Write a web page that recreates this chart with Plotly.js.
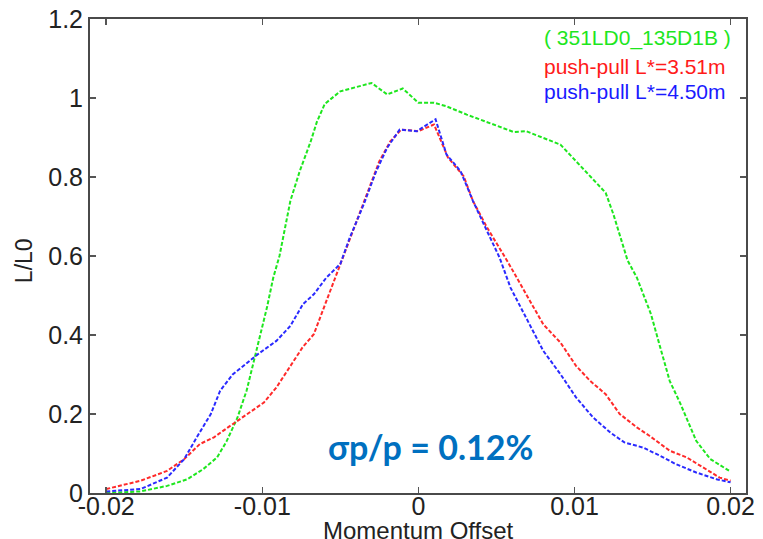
<!DOCTYPE html>
<html>
<head>
<meta charset="utf-8">
<script src="https://cdn.plot.ly/plotly-3.0.1.min.js"></script>
<style>html,body{margin:0;padding:0;background:#fff;}#chart{width:763px;height:539px;}</style>
</head>
<body>
<div id="chart"></div>
<script>
// Momentum offset vs L/L0
const greenX = [-0.0200,-0.0178,-0.0161,-0.0148,-0.0138,-0.0129,-0.0123,-0.0116,-0.0110,-0.0105,-0.0101,-0.0097,-0.0093,-0.0089,-0.0082,-0.0076,-0.0069,-0.0065,-0.0060,-0.0050,-0.0030,-0.0020,-0.0010,0.0000,0.0010,0.0018,0.0031,0.0048,0.0061,0.0069,0.0091,0.0101,0.0120,0.0125,0.0134,0.0140,0.0149,0.0155,0.0161,0.0168,0.0178,0.0187,0.0200];
const greenY = [0.000,0.004,0.018,0.035,0.060,0.090,0.130,0.190,0.260,0.340,0.400,0.470,0.545,0.600,0.740,0.815,0.890,0.940,0.985,1.017,1.038,1.009,1.024,0.988,0.988,0.979,0.958,0.933,0.914,0.916,0.882,0.840,0.760,0.705,0.589,0.545,0.453,0.368,0.284,0.225,0.132,0.086,0.054];
const redX = [-0.0200,-0.0178,-0.0161,-0.0150,-0.0140,-0.0131,-0.0122,-0.0110,-0.0099,-0.0091,-0.0082,-0.0074,-0.0067,-0.0059,-0.0049,-0.0042,-0.0033,-0.0025,-0.0018,-0.0011,0.0000,0.0010,0.0019,0.0029,0.0035,0.0044,0.0057,0.0069,0.0080,0.0091,0.0101,0.0110,0.0120,0.0129,0.0140,0.0148,0.0161,0.0172,0.0182,0.0193,0.0200];
const redY = [0.010,0.031,0.056,0.086,0.124,0.141,0.166,0.200,0.229,0.267,0.322,0.370,0.402,0.486,0.590,0.663,0.756,0.840,0.890,0.920,0.916,0.933,0.849,0.802,0.739,0.672,0.587,0.503,0.427,0.381,0.322,0.284,0.250,0.200,0.166,0.145,0.107,0.090,0.065,0.039,0.031];
const blueX = [-0.0200,-0.0178,-0.0161,-0.0150,-0.0142,-0.0133,-0.0127,-0.0119,-0.0112,-0.0103,-0.0091,-0.0082,-0.0074,-0.0067,-0.0059,-0.0050,-0.0044,-0.0035,-0.0027,-0.0020,-0.0012,-0.0001,0.0011,0.0018,0.0027,0.0035,0.0044,0.0052,0.0059,0.0069,0.0080,0.0091,0.0101,0.0112,0.0123,0.0132,0.0144,0.0155,0.0165,0.0178,0.0191,0.0200];
const blueY = [0.004,0.010,0.039,0.086,0.141,0.200,0.259,0.300,0.322,0.351,0.385,0.423,0.478,0.503,0.545,0.580,0.646,0.731,0.815,0.874,0.920,0.916,0.946,0.857,0.815,0.739,0.663,0.596,0.520,0.444,0.360,0.301,0.242,0.191,0.153,0.128,0.115,0.094,0.073,0.052,0.035,0.027];
const seriesNames = ['( 351LD0_135D1B )','push-pull L*=3.51m','push-pull L*=4.50m'];
const seriesColors = ['#1ee61e','#ff2a2a','#2a2aff'];
const xTicks = [-0.02,-0.01,0,0.01,0.02];
const xTickText = ['-0.02','-0.01','0','0.01','0.02'];
const yTicks = [0,0.2,0.4,0.6,0.8,1,1.2];
const yTickText = ['0','0.2','0.4','0.6','0.8','1','1.2'];
const xTitle = 'Momentum Offset';
const yTitle = 'L/L0';
const noteText = 'σp/p = 0.12%';

const mk = (x,y,i) => ({x:x,y:y,type:'scatter',mode:'lines',name:seriesNames[i],
  line:{color:seriesColors[i],width:2,dash:'4px,2px'},hoverinfo:'skip'});
const data = [mk(greenX,greenY,0), mk(redX,redY,1), mk(blueX,blueY,2)];

const fam = '"Liberation Sans", Arial, sans-serif';
const tickFont = {family:fam, size:25, color:'#222'};
const layout = {
  width:763, height:539,
  margin:{l:90, r:17, t:19, b:46},
  paper_bgcolor:'#fff', plot_bgcolor:'#fff',
  showlegend:false,
  xaxis:{range:[-0.02104,0.02099], tickvals:xTicks, ticktext:xTickText, ticks:'inside', ticklen:6,
    tickcolor:'#555', tickwidth:1.5, showline:true, linecolor:'#4a4a4a', linewidth:2, mirror:'ticks',
    showgrid:false, zeroline:false, tickfont:tickFont, ticklabelstandoff:-10},
  yaxis:{range:[0,1.2], tickvals:yTicks, ticktext:yTickText, ticks:'inside', ticklen:6,
    tickcolor:'#555', tickwidth:1.5, showline:true, linecolor:'#4a4a4a', linewidth:2, mirror:'ticks',
    showgrid:false, zeroline:false, tickfont:tickFont, ticklabelstandoff:0},
  annotations:[
    {xref:'paper', yref:'paper', x:0.5, y:-0.079, xanchor:'center', yanchor:'middle', showarrow:false,
      text:xTitle, font:{family:fam, size:24, color:'#222'}},
    {xref:'paper', yref:'paper', x:-0.1015, y:0.49, xanchor:'center', yanchor:'middle', showarrow:false,
      textangle:-90, text:yTitle, font:{family:fam, size:23, color:'#222'}},
    {xref:'paper', yref:'paper', x:0.689, y:0.96, xanchor:'left', yanchor:'middle', showarrow:false,
      text:seriesNames[0], font:{family:fam, size:21, color:seriesColors[0]}},
    {xref:'paper', yref:'paper', x:0.689, y:0.899, xanchor:'left', yanchor:'middle', showarrow:false,
      text:seriesNames[1], font:{family:fam, size:21, color:'#ff1a1a'}},
    {xref:'paper', yref:'paper', x:0.689, y:0.846, xanchor:'left', yanchor:'middle', showarrow:false,
      text:seriesNames[2], font:{family:fam, size:21, color:'#1a1aff'}},
    {xref:'paper', yref:'paper', x:0.519, y:0.098, xanchor:'center', yanchor:'middle', showarrow:false,
      text:'<b>'+noteText+'</b>', font:{family:'Lato, "Open Sans", sans-serif', size:34, color:'#0070C0'}}
  ]
};
Plotly.newPlot('chart', data, layout, {staticPlot:true, displayModeBar:false});
</script>
</body>
</html>
